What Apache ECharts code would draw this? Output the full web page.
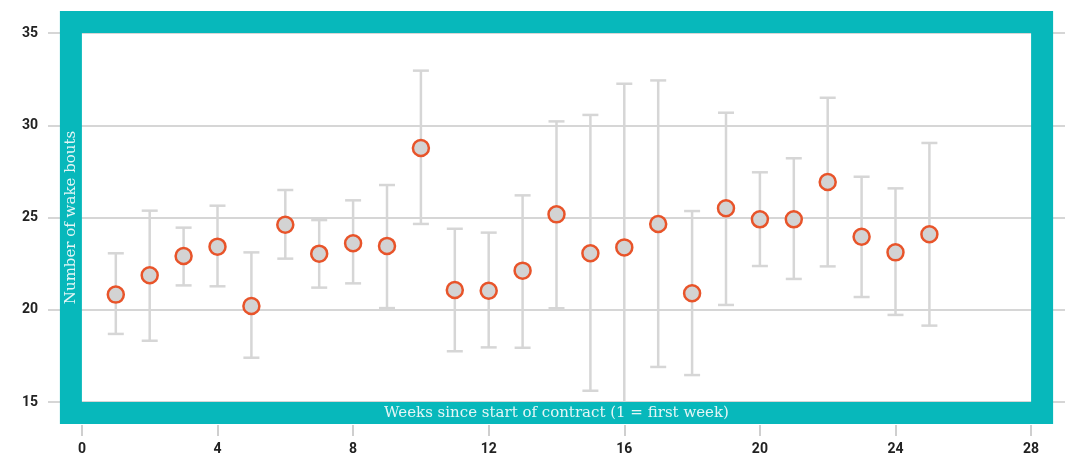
<!DOCTYPE html>
<html>
<head>
<meta charset="utf-8">
<script src="https://cdn.jsdelivr.net/npm/echarts@6/dist/echarts.min.js"></script>
<style>
  html, body { margin: 0; padding: 0; background: #fff; }
  #chart { width: 1066px; height: 461px; }
</style>
</head>
<body>
<div id="chart"></div>
<script>
// weeks since start of contract
var weeks = [1, 2, 3, 4, 5, 6, 7, 8, 9, 10, 11, 12, 13, 14, 15, 16, 17, 18, 19, 20, 21, 22, 23, 24, 25];
// mean number of wake bouts
var means = [20.82, 21.87, 22.91, 23.42, 20.2, 24.61, 23.04, 23.6, 23.46, 28.77, 21.07, 21.03, 22.12,
  25.17, 23.06, 23.38, 24.65, 20.89, 25.5, 24.9, 24.9, 26.92, 23.96, 23.11, 24.09];
// error bar bounds
var lower = [18.69, 18.32, 21.32, 21.27, 17.4, 22.77, 21.2, 21.43, 20.09, 24.65, 17.75, 17.96, 17.94,
  20.08, 15.61, 14.6, 16.9, 16.46, 20.26, 22.37, 21.67, 22.35, 20.69, 19.72, 19.14];
var upper = [23.06, 25.37, 24.45, 25.64, 23.11, 26.49, 24.86, 25.93, 26.76, 32.96, 24.39, 24.18, 26.2,
  30.21, 30.56, 32.25, 32.43, 25.35, 30.68, 27.45, 28.21, 31.49, 27.21, 26.58, 29.04];
var xTicks = [0, 4, 8, 12, 16, 20, 24, 28];
var xRange = [0, 28];
var yRange = [15, 35];
var xTitle = 'Weeks since start of contract (1 = first week)';
var yTitle = 'Number of wake bouts';

var frameColor = '#07b8bb';
var barColor = '#d6d6d6';
var titleFont = '15px "DejaVu Serif"';

var myChart = echarts.init(document.getElementById('chart'));

var option = {
  animation: false,
  grid: { left: 48, right: 1, top: 33, bottom: 59, outerBoundsMode: 'none', containLabel: false },
  xAxis: {
    type: 'value',
    min: xRange[0] - 1,
    max: xRange[1] + 1,
    offset: 23,
    axisLine: { show: false },
    axisTick: { show: true, customValues: xTicks, length: 11, lineStyle: { color: '#cfcfcf', width: 2 } },
    axisLabel: { customValues: xTicks, margin: 17, color: '#222', fontSize: 14, fontWeight: 'bold', fontFamily: 'Roboto' },
    splitLine: { show: false }
  },
  yAxis: {
    type: 'value',
    min: yRange[0],
    max: yRange[1],
    interval: 5,
    axisLine: { show: false },
    axisTick: { show: false },
    axisLabel: { margin: 10, color: '#222', fontSize: 14, fontWeight: 'bold', fontFamily: 'Roboto' },
    splitLine: { lineStyle: { color: '#d6d6d6', width: 2 } }
  },
  series: [
    {
      type: 'custom',
      clip: false,
      z: 2,
      data: weeks.map(function (w, i) { return [w, lower[i], upper[i]]; }),
      renderItem: function (params, api) {
        var lo = api.coord([api.value(0), api.value(1)]);
        var hi = api.coord([api.value(0), api.value(2)]);
        var half = 8;
        var style = { stroke: barColor, lineWidth: 2.5 };
        return {
          type: 'group',
          children: [
            { type: 'line', shape: { x1: lo[0], y1: lo[1], x2: hi[0], y2: hi[1] }, style: style },
            { type: 'line', shape: { x1: hi[0] - half, y1: hi[1], x2: hi[0] + half, y2: hi[1] }, style: style },
            { type: 'line', shape: { x1: lo[0] - half, y1: lo[1], x2: lo[0] + half, y2: lo[1] }, style: style }
          ]
        };
      }
    },
    {
      type: 'scatter',
      z: 3,
      symbol: 'circle',
      symbolSize: 16,
      data: weeks.map(function (w, i) { return [w, means[i]]; }),
      itemStyle: { color: '#d3d3d3', borderColor: '#e8542a', borderWidth: 2.5, opacity: 1 }
    },
    {
      // teal frame round the data area, with the axis titles written on it
      type: 'custom',
      clip: false,
      z: 5,
      silent: true,
      data: [[xRange[0], yRange[1], xRange[1], yRange[0]]],
      renderItem: function (params, api) {
        var a = api.coord([api.value(0), api.value(1)]);
        var b = api.coord([api.value(2), api.value(3)]);
        var t = 22;
        return {
          type: 'group',
          children: [
            {
              type: 'rect',
              shape: { x: a[0] - t / 2, y: a[1] - t / 2, width: b[0] - a[0] + t, height: b[1] - a[1] + t },
              style: { fill: null, stroke: frameColor, lineWidth: t }
            },
            {
              type: 'text',
              x: (a[0] + b[0]) / 2,
              y: b[1] + t / 2,
              style: { text: xTitle, font: titleFont, fill: '#e4f6f6', align: 'center', verticalAlign: 'middle' }
            },
            {
              type: 'text',
              x: a[0] - t / 2,
              y: (a[1] + b[1]) / 2,
              rotation: Math.PI / 2,
              style: { text: yTitle, font: titleFont, fill: '#e4f6f6', align: 'center', verticalAlign: 'middle' }
            }
          ]
        };
      }
    }
  ]
};

myChart.setOption(option);
</script>
</body>
</html>
